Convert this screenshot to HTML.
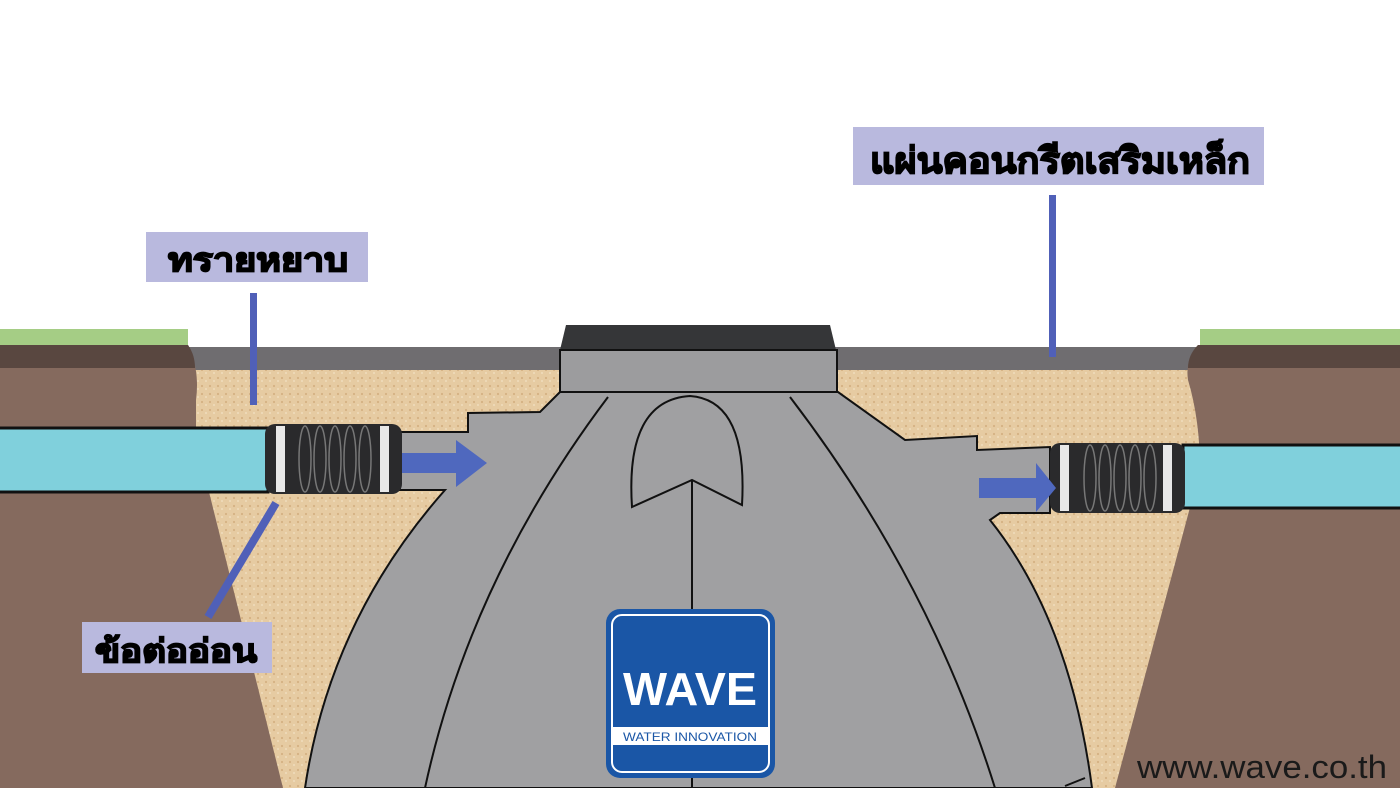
<!DOCTYPE html>
<html><head><meta charset="utf-8"><style>
html,body{margin:0;padding:0;background:#fff;}
svg{display:block;}
.th{font-family:"Liberation Sans","Noto Sans CJK SC",sans-serif;font-weight:900;fill:#000;stroke:#000;stroke-width:1.6;}
</style></head><body>
<svg width="1400" height="788" viewBox="0 0 1400 788" xmlns="http://www.w3.org/2000/svg">
<defs>
<pattern id="sand" width="8" height="8" patternUnits="userSpaceOnUse">
<rect width="8" height="8" fill="#e6cba2"/>
<circle cx="2" cy="2" r="1.1" fill="#d4b283"/>
<circle cx="6" cy="5" r="0.9" fill="#f3e2c4"/>
</pattern>
</defs>
<rect width="1400" height="788" fill="#fff"/>
<rect x="180" y="360" width="1030" height="428" fill="url(#sand)"/>
<rect x="185" y="347" width="1015" height="23" fill="#6f6d70"/>
<path d="M0,345 L188,345 Q200,370 196,400 L196,440 L283,788 L0,788 Z" fill="#856a5e"/>
<path d="M0,345 L188,345 Q195,355 195,368 L0,368 Z" fill="#594740"/>
<rect x="0" y="329" width="188" height="16" fill="#a5cd85"/>
<path d="M1400,345 L1198,345 Q1185,360 1188,380 Q1200,420 1200,470 L1115,788 L1400,788 Z" fill="#856a5e"/>
<path d="M1400,345 L1198,345 Q1188,355 1188,368 L1400,368 Z" fill="#594740"/>
<rect x="1200" y="329" width="200" height="16" fill="#a5cd85"/>
<path d="M560,392 L540,412 L468,413 L468,432 L400,432 L400,490 L445,490 Q330,620 305,788 L1092,788 Q1070,620 990,520 L1000,513 L1050,513 L1050,447 L977,450 L977,436 L905,440 L838,392 Z" fill="#a0a0a2" stroke="#111" stroke-width="2"/>
<path d="M608,397 Q470,580 425,788" fill="none" stroke="#111" stroke-width="2"/>
<path d="M790,397 Q930,580 995,788" fill="none" stroke="#111" stroke-width="2"/>
<line x1="692" y1="480" x2="692" y2="788" stroke="#111" stroke-width="2"/>
<path d="M632,507 Q625,400 690,396 Q748,400 742,505 L692,480 Z" fill="#a0a0a2" stroke="#111" stroke-width="2"/>
<line x1="1065" y1="786" x2="1085" y2="778" stroke="#111" stroke-width="2"/>
<path d="M566,325 L830,325 L836,350 L560,350 Z" fill="#353638"/>
<rect x="560" y="350" width="277" height="42" fill="#9c9c9e" stroke="#111" stroke-width="2"/>
<rect x="-2" y="428" width="270" height="64" fill="#80d0dc" stroke="#111" stroke-width="3"/>
<rect x="1183" y="445" width="220" height="63" fill="#80d0dc" stroke="#111" stroke-width="3"/>
<g>
<rect x="265" y="424" width="137" height="70" rx="10" fill="#2a2a2c"/>
<rect x="276" y="426" width="9" height="66" fill="#e8e8e8"/>
<rect x="380" y="426" width="9" height="66" fill="#e8e8e8"/>
<g fill="none" stroke="#777" stroke-width="1.5">
<ellipse cx="305" cy="459" rx="6" ry="33"/><ellipse cx="320" cy="459" rx="6" ry="33"/><ellipse cx="335" cy="459" rx="6" ry="33"/><ellipse cx="350" cy="459" rx="6" ry="33"/><ellipse cx="365" cy="459" rx="6" ry="33"/>
</g>
</g>
<g>
<rect x="1050" y="443" width="135" height="70" rx="10" fill="#2a2a2c"/>
<rect x="1060" y="445" width="9" height="66" fill="#e8e8e8"/>
<rect x="1163" y="445" width="9" height="66" fill="#e8e8e8"/>
<g fill="none" stroke="#777" stroke-width="1.5">
<ellipse cx="1090" cy="478" rx="6" ry="33"/><ellipse cx="1105" cy="478" rx="6" ry="33"/><ellipse cx="1120" cy="478" rx="6" ry="33"/><ellipse cx="1135" cy="478" rx="6" ry="33"/><ellipse cx="1150" cy="478" rx="6" ry="33"/>
</g>
</g>
<path d="M402,453 L456,453 L456,440 L487,463 L456,487 L456,473 L402,473 Z" fill="#4f68be"/>
<path d="M979,478 L1036,478 L1036,463 L1056,488 L1036,512 L1036,498 L979,498 Z" fill="#4f68be"/>
<rect x="250" y="293" width="7" height="112" fill="#5060b8"/>
<rect x="1049" y="195" width="7" height="162" fill="#5060b8"/>
<line x1="276" y1="503" x2="208" y2="617" stroke="#5060b8" stroke-width="8"/>
<rect x="146" y="232" width="222" height="50" fill="#b9b9de"/>
<text class="th" x="168" y="271" font-size="32" textLength="180" lengthAdjust="spacingAndGlyphs">ทรายหยาบ</text>
<rect x="853" y="127" width="411" height="58" fill="#b9b9de"/>
<text class="th" x="870" y="173" font-size="36" textLength="380" lengthAdjust="spacingAndGlyphs">แผ่นคอนกรีตเสริมเหล็ก</text>
<rect x="82" y="622" width="190" height="51" fill="#b9b9de"/>
<text class="th" x="95" y="662" font-size="32" textLength="162" lengthAdjust="spacingAndGlyphs">ข้อต่ออ่อน</text>
<rect x="606" y="609" width="169" height="169" rx="14" fill="#1a56a6"/>
<rect x="612" y="615" width="157" height="157" rx="10" fill="none" stroke="#fff" stroke-width="2"/>
<text x="690" y="705" text-anchor="middle" font-family="Liberation Sans,sans-serif" font-weight="bold" font-size="46" fill="#fff" textLength="134" lengthAdjust="spacingAndGlyphs">WAVE</text>
<rect x="613" y="727" width="155" height="18" fill="#fff"/>
<text x="690" y="741" text-anchor="middle" font-family="Liberation Sans,sans-serif" font-size="12" fill="#1a56a6" textLength="134" lengthAdjust="spacingAndGlyphs">WATER INNOVATION</text>
<text x="1137" y="778" font-family="Liberation Sans,sans-serif" font-size="32" fill="#1a1a1a" textLength="250" lengthAdjust="spacingAndGlyphs">www.wave.co.th</text>
</svg>
</body></html>
